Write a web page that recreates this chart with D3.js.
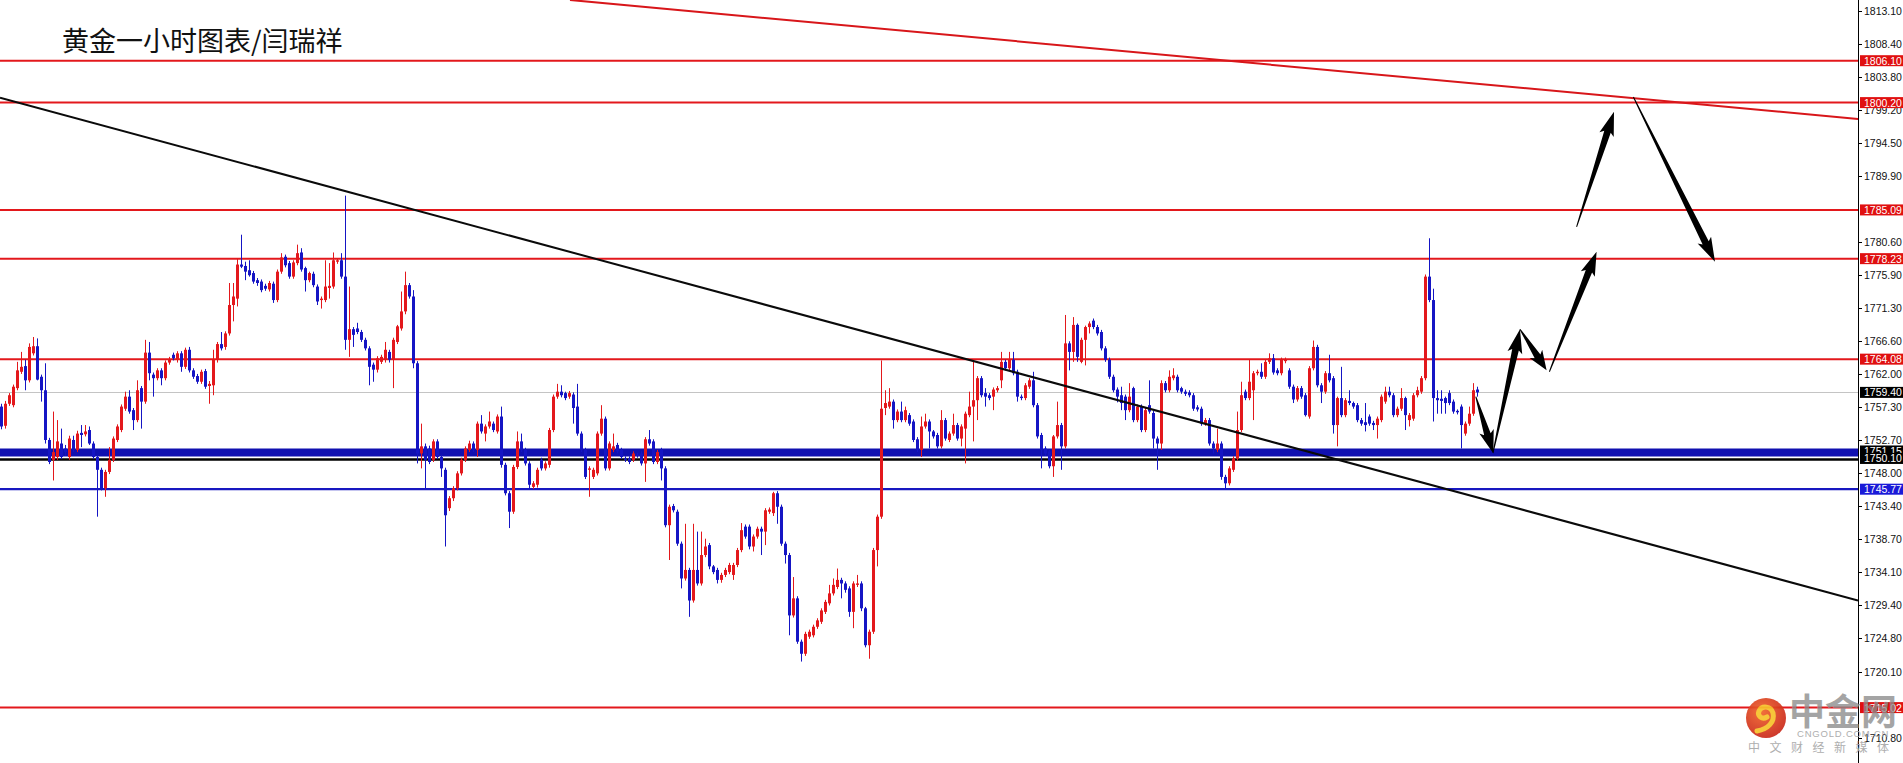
<!DOCTYPE html>
<html><head><meta charset="utf-8">
<script src="https://cdn.jsdelivr.net/npm/d3@7"></script>
<style>html,body{margin:0;padding:0;background:#fff;overflow:hidden}svg{display:block}</style>
</head><body>
<script>
// ---------- DATA ----------
const title = "黄金一小时图表/闫瑞祥";
// hourly candles: [open, high, low, close]
const candles = [
[1757.4,1757.8,1754.2,1754.6],[1754.7,1758.2,1754.3,1757.8],[1757.8,1759.3,1757.5,1759.0],[1757.6,1760.5,1757.3,1760.2],[1760.0,1763.7,1759.7,1762.5],
[1762.3,1765.1,1762.0,1763.0],[1763.1,1764.0,1759.7,1761.1],[1761.1,1766.3,1760.8,1765.8],[1764.9,1767.2,1764.6,1765.9],[1765.9,1767.0,1761.1,1761.2],
[1761.6,1761.9,1758.1,1759.7],[1759.7,1763.5,1752.2,1752.7],[1752.7,1753.0,1749.3,1749.6],[1749.9,1756.7,1747.0,1751.0],[1750.3,1755.5,1749.9,1752.5],
[1752.2,1754.3,1750.0,1750.3],[1751.5,1752.0,1750.5,1751.0],[1750.3,1753.3,1749.9,1752.9],[1752.7,1753.3,1751.0,1751.3],[1751.3,1754.0,1751.0,1753.6],
[1753.7,1754.8,1751.7,1753.4],[1753.5,1754.8,1753.2,1753.9],[1754.1,1754.6,1752.0,1752.2],[1752.2,1752.5,1750.0,1750.3],[1750.3,1750.6,1741.9,1748.5],
[1748.5,1748.8,1745.6,1745.9],[1745.9,1748.5,1744.7,1748.2],[1748.2,1751.7,1747.9,1749.9],[1749.9,1753.2,1749.6,1752.9],[1752.7,1754.9,1752.4,1754.6],
[1754.1,1757.7,1753.8,1757.4],[1757.1,1759.5,1756.8,1758.8],[1758.8,1759.7,1756.4,1756.7],[1756.9,1757.2,1754.1,1755.5],[1755.5,1761.1,1755.2,1759.7],
[1760.0,1760.3,1754.3,1758.1],[1758.1,1766.8,1757.8,1765.0],[1765.0,1766.5,1761.1,1762.1],[1761.9,1762.2,1758.8,1761.4],[1761.4,1762.8,1761.1,1762.5],
[1762.5,1762.8,1760.4,1761.4],[1761.4,1763.9,1761.1,1763.6],[1763.6,1764.4,1763.3,1764.0],[1764.7,1765.0,1763.9,1764.2],[1764.0,1765.2,1763.6,1764.9],
[1764.9,1765.2,1762.3,1763.0],[1763.0,1765.7,1762.7,1765.4],[1765.4,1765.8,1762.2,1762.5],[1762.5,1762.8,1761.3,1761.6],[1761.7,1762.0,1760.6,1760.9],
[1760.9,1762.6,1760.6,1762.3],[1762.4,1762.7,1759.9,1760.2],[1760.3,1761.0,1757.8,1760.6],[1760.4,1765.4,1759.0,1764.0],[1764.0,1766.5,1763.6,1766.2],
[1766.2,1767.9,1765.3,1765.6],[1765.8,1768.0,1765.4,1767.7],[1767.7,1774.8,1767.4,1771.7],[1771.7,1774.8,1769.4,1772.9],[1772.6,1778.3,1771.5,1777.4],
[1777.4,1781.6,1776.9,1777.1],[1777.2,1777.8,1775.2,1776.4],[1776.6,1778.0,1775.7,1775.9],[1776.2,1776.5,1774.7,1775.0],[1775.2,1775.5,1774.4,1774.8],
[1775.0,1775.3,1773.5,1773.8],[1774.4,1774.7,1773.7,1774.0],[1773.9,1775.1,1773.6,1774.8],[1774.7,1775.0,1772.0,1772.4],[1772.4,1776.7,1772.1,1776.4],
[1776.4,1779.0,1776.1,1778.4],[1778.5,1778.8,1777.0,1777.3],[1777.6,1777.9,1775.4,1775.7],[1775.7,1778.0,1775.4,1777.7],[1777.6,1780.2,1777.3,1779.0],
[1779.1,1779.7,1776.4,1776.7],[1776.9,1777.1,1773.6,1775.2],[1775.2,1776.4,1774.9,1776.2],[1776.1,1776.4,1774.2,1774.5],[1774.3,1774.6,1771.7,1772.2],
[1772.4,1772.9,1771.2,1772.6],[1772.4,1778.0,1772.1,1774.3],[1774.1,1777.6,1772.6,1774.4],[1774.3,1779.1,1774.0,1778.0],[1777.8,1778.3,1777.5,1778.0],
[1778.0,1779.0,1775.4,1775.7],[1775.7,1787.1,1765.4,1766.8],[1766.8,1774.3,1764.4,1768.3],[1768.3,1768.6,1765.8,1767.5],[1768.4,1769.2,1767.6,1767.9],
[1767.9,1768.2,1766.5,1766.8],[1766.8,1767.1,1765.3,1765.6],[1765.6,1765.9,1760.4,1763.0],[1763.3,1763.6,1760.9,1762.6],[1762.6,1764.5,1762.2,1764.2],
[1763.7,1764.7,1763.4,1764.4],[1764.0,1766.5,1763.6,1765.4],[1765.1,1765.4,1763.6,1764.0],[1764.0,1767.1,1760.0,1766.8],[1766.5,1768.9,1766.2,1768.7],
[1768.4,1773.6,1768.1,1770.8],[1770.8,1776.4,1770.4,1774.5],[1774.5,1774.8,1772.6,1772.9],[1772.9,1773.8,1762.8,1763.5],[1763.5,1763.8,1749.4,1750.8],
[1750.8,1755.0,1748.7,1751.8],[1751.8,1752.2,1745.9,1749.9],[1751.5,1751.9,1749.3,1749.6],[1749.9,1752.8,1749.6,1752.5],[1752.5,1752.8,1750.0,1750.3],
[1750.3,1750.6,1747.5,1748.7],[1748.5,1748.8,1737.7,1742.1],[1743.1,1744.8,1742.7,1744.5],[1744.5,1746.2,1744.1,1745.9],[1745.9,1748.3,1745.6,1748.0],
[1748.0,1750.2,1747.7,1749.9],[1749.9,1751.8,1749.6,1751.5],[1751.3,1752.6,1751.0,1752.2],[1752.2,1752.5,1751.0,1751.3],[1751.3,1755.3,1750.3,1755.0],
[1755.0,1756.2,1753.6,1753.9],[1753.6,1754.9,1752.5,1754.6],[1754.6,1756.7,1754.3,1755.3],[1755.0,1755.3,1753.8,1754.1],[1753.9,1756.3,1753.6,1756.0],
[1756.0,1757.4,1748.8,1749.2],[1749.2,1749.5,1744.9,1745.2],[1745.2,1745.5,1740.3,1742.6],[1742.6,1749.2,1742.3,1748.9],[1748.9,1753.9,1748.6,1752.5],
[1752.5,1753.6,1751.0,1751.3],[1751.3,1751.6,1749.1,1749.4],[1749.4,1749.7,1745.9,1746.4],[1746.1,1746.9,1745.8,1746.6],[1746.4,1748.8,1746.0,1748.5],
[1749.9,1750.2,1748.4,1748.7],[1748.7,1749.7,1748.4,1749.4],[1749.2,1754.4,1748.8,1754.1],[1754.1,1759.1,1753.8,1758.8],[1758.8,1760.6,1758.5,1759.5],
[1759.5,1760.4,1758.7,1759.0],[1759.3,1759.5,1758.3,1758.6],[1758.8,1759.6,1758.5,1759.3],[1759.1,1759.4,1755.0,1757.2],[1757.4,1760.6,1753.3,1753.6],
[1753.6,1753.9,1751.0,1751.3],[1751.3,1751.6,1747.2,1747.5],[1748.5,1749.0,1744.7,1748.7],[1747.5,1748.8,1747.2,1748.5],[1748.0,1753.9,1747.7,1753.6],
[1753.6,1757.6,1753.3,1755.7],[1755.7,1756.0,1748.4,1748.7],[1748.7,1752.5,1748.4,1752.2],[1751.3,1753.6,1751.0,1751.8],[1752.0,1752.3,1750.8,1751.1],
[1751.3,1751.6,1750.0,1750.3],[1750.1,1750.4,1749.6,1749.9],[1750.1,1750.4,1749.3,1749.6],[1749.9,1751.1,1749.6,1750.8],[1750.6,1750.9,1750.2,1750.5],
[1750.8,1751.1,1749.1,1749.4],[1749.4,1753.1,1746.8,1752.8],[1752.8,1754.1,1751.9,1752.2],[1752.5,1752.8,1749.3,1749.6],[1749.6,1751.3,1749.3,1751.0],
[1751.3,1751.6,1747.0,1748.7],[1748.7,1749.0,1740.4,1740.7],[1740.7,1743.6,1735.8,1743.3],[1743.4,1743.7,1742.5,1742.8],[1742.6,1742.9,1737.8,1738.1],
[1738.1,1738.4,1731.8,1733.2],[1733.2,1740.9,1732.9,1734.4],[1734.4,1734.7,1727.8,1730.1],[1730.1,1740.9,1729.8,1734.4],[1734.4,1739.8,1732.2,1732.5],
[1732.5,1739.8,1732.2,1736.5],[1736.5,1738.8,1736.2,1737.7],[1737.9,1738.2,1734.5,1734.9],[1734.9,1735.1,1733.8,1734.1],[1734.4,1734.7,1732.5,1733.0],
[1733.0,1734.0,1732.6,1733.7],[1733.7,1734.7,1733.4,1734.4],[1734.1,1735.4,1733.8,1735.1],[1733.7,1735.4,1733.0,1735.1],[1735.1,1737.5,1734.8,1737.2],
[1737.2,1741.0,1736.9,1740.0],[1740.5,1740.8,1738.8,1739.1],[1740.5,1740.8,1737.3,1737.7],[1737.7,1739.4,1737.0,1739.1],[1739.1,1740.5,1738.8,1740.2],
[1740.2,1740.5,1736.5,1739.8],[1739.8,1743.1,1737.9,1742.8],[1742.6,1743.2,1742.3,1742.9],[1742.4,1745.4,1742.0,1745.2],[1745.2,1745.5,1740.9,1743.3],
[1743.3,1743.6,1737.8,1738.1],[1738.1,1738.4,1735.3,1736.5],[1736.5,1736.8,1725.2,1728.0],[1728.0,1733.4,1727.7,1730.4],[1730.4,1730.7,1724.0,1724.3],
[1724.3,1724.6,1721.5,1722.6],[1722.6,1725.7,1722.3,1725.4],[1725.0,1726.0,1724.7,1725.7],[1725.2,1726.7,1724.9,1726.4],[1726.4,1727.6,1726.1,1727.3],
[1727.1,1729.0,1726.8,1728.7],[1728.5,1730.2,1728.2,1729.9],[1729.7,1732.3,1729.4,1731.1],[1731.1,1733.2,1730.8,1732.3],[1732.0,1734.6,1731.7,1733.0],
[1733.0,1733.3,1730.4,1732.5],[1732.5,1732.8,1731.2,1731.6],[1731.8,1732.1,1727.8,1728.5],[1728.5,1732.8,1726.2,1732.5],[1732.3,1733.7,1732.0,1732.5],
[1732.5,1732.8,1728.6,1729.0],[1729.0,1729.2,1723.5,1723.8],[1723.8,1726.0,1721.9,1725.7],[1725.7,1737.5,1725.4,1737.2],[1737.2,1742.2,1734.9,1741.9],
[1741.9,1763.9,1741.6,1757.1],[1757.2,1759.7,1756.2,1757.9],[1757.4,1760.0,1757.1,1758.1],[1758.1,1758.4,1754.3,1755.5],[1755.5,1757.0,1755.2,1756.7],
[1756.7,1758.1,1755.2,1755.5],[1755.5,1757.4,1755.2,1756.9],[1756.2,1756.5,1754.7,1755.0],[1755.3,1755.6,1752.4,1752.7],[1752.8,1753.1,1751.0,1751.3],
[1751.3,1756.0,1750.3,1754.6],[1754.6,1756.4,1754.3,1755.3],[1755.3,1755.6,1751.5,1753.9],[1753.9,1754.1,1752.9,1753.2],[1753.4,1753.7,1751.5,1751.8],
[1751.8,1756.9,1751.5,1755.5],[1755.5,1755.8,1752.6,1752.9],[1752.7,1753.9,1752.4,1753.6],[1753.6,1756.4,1753.3,1754.8],[1754.8,1755.1,1752.6,1752.9],
[1752.9,1754.9,1751.8,1754.6],[1754.3,1756.7,1749.4,1756.4],[1756.2,1759.5,1755.9,1757.4],[1757.4,1763.7,1752.5,1758.3],[1758.3,1761.7,1755.5,1761.4],
[1761.4,1761.7,1758.7,1759.0],[1759.3,1760.0,1757.4,1758.8],[1759.0,1759.3,1758.3,1758.6],[1758.8,1760.1,1756.9,1759.8],[1759.7,1760.3,1759.4,1760.0],
[1761.1,1765.1,1760.0,1763.7],[1763.7,1764.0,1762.5,1762.8],[1762.8,1765.1,1762.5,1764.0],[1764.0,1765.1,1761.8,1762.1],[1762.3,1762.6,1758.1,1758.8],
[1758.8,1759.1,1758.3,1758.6],[1758.6,1760.7,1758.3,1760.4],[1760.2,1761.4,1759.9,1761.1],[1761.1,1762.3,1757.3,1757.6],[1757.6,1757.9,1752.9,1753.2],
[1753.4,1753.7,1748.7,1751.3],[1751.5,1751.8,1750.5,1750.8],[1751.1,1751.3,1748.7,1749.0],[1749.0,1753.4,1747.5,1753.2],[1753.2,1758.1,1752.9,1754.8],
[1754.8,1755.1,1748.5,1751.8],[1751.8,1770.3,1751.5,1766.3],[1766.3,1766.6,1762.5,1765.1],[1765.1,1770.0,1763.7,1768.9],[1768.9,1769.1,1763.7,1764.4],
[1763.7,1767.1,1763.5,1766.8],[1766.8,1768.8,1763.2,1768.6],[1768.6,1769.4,1767.7,1769.1],[1769.5,1769.8,1768.3,1768.6],[1768.6,1768.9,1767.4,1767.7],
[1767.9,1768.2,1765.3,1765.6],[1765.6,1765.9,1763.7,1764.0],[1764.0,1764.3,1761.3,1761.6],[1761.6,1761.9,1759.4,1759.7],[1759.8,1760.1,1758.0,1758.8],
[1759.0,1760.2,1756.9,1757.9],[1758.8,1759.1,1755.5,1756.9],[1756.9,1760.7,1756.6,1758.8],[1760.0,1760.2,1755.2,1755.5],[1755.5,1757.7,1755.2,1757.4],
[1757.4,1757.7,1753.8,1754.1],[1754.1,1757.2,1753.8,1756.9],[1757.6,1761.1,1756.4,1756.7],[1756.5,1756.8,1751.5,1752.9],[1752.9,1753.2,1748.5,1752.2],
[1752.2,1761.1,1751.3,1760.7],[1760.7,1761.0,1759.4,1759.7],[1759.7,1762.5,1759.4,1761.6],[1761.4,1762.8,1761.1,1761.8],[1761.6,1761.9,1759.4,1759.7],
[1760.0,1760.2,1759.2,1759.5],[1759.5,1759.8,1758.9,1759.2],[1759.4,1759.7,1758.7,1759.0],[1759.0,1759.3,1756.8,1757.1],[1757.3,1757.6,1756.7,1757.0],
[1757.1,1757.4,1754.7,1755.0],[1755.0,1755.8,1754.7,1755.5],[1755.5,1755.8,1751.9,1752.2],[1752.2,1752.5,1750.8,1751.5],[1751.3,1754.3,1751.0,1752.2],
[1752.2,1752.5,1747.1,1747.5],[1747.5,1747.8,1745.9,1746.6],[1746.6,1749.0,1746.3,1748.7],[1748.5,1750.4,1748.2,1750.1],[1750.1,1756.7,1749.8,1754.1],
[1754.1,1760.9,1753.8,1759.0],[1759.5,1759.8,1758.3,1758.6],[1758.6,1764.0,1758.3,1760.9],[1759.7,1762.4,1755.5,1762.1],[1762.1,1762.6,1761.8,1762.3],
[1762.3,1763.5,1761.3,1761.6],[1761.6,1764.0,1761.3,1763.7],[1763.7,1764.9,1763.4,1764.2],[1764.2,1764.8,1761.9,1762.2],[1762.5,1762.8,1761.8,1762.1],
[1762.1,1764.3,1761.8,1764.0],[1763.8,1764.3,1763.5,1764.0],[1762.5,1762.8,1759.9,1760.2],[1760.2,1760.5,1757.9,1758.4],[1758.4,1760.3,1758.1,1760.0],
[1760.0,1760.3,1758.5,1758.8],[1759.0,1759.3,1756.0,1756.2],[1756.0,1763.1,1755.7,1762.8],[1762.8,1766.7,1762.5,1765.8],[1765.8,1766.1,1760.1,1760.4],
[1760.4,1760.7,1757.9,1759.5],[1759.5,1762.4,1759.2,1762.1],[1762.1,1764.7,1760.8,1761.1],[1761.4,1761.7,1753.6,1754.8],[1754.8,1758.8,1751.8,1758.6],
[1758.6,1763.0,1755.9,1756.2],[1756.2,1758.6,1755.9,1758.3],[1758.2,1759.7,1757.6,1757.9],[1757.9,1758.1,1757.1,1757.4],[1757.6,1757.9,1755.2,1755.5],
[1755.5,1755.8,1754.7,1755.0],[1755.2,1757.9,1753.9,1754.8],[1756.0,1756.3,1754.7,1755.0],[1755.1,1755.4,1754.1,1754.8],[1754.8,1756.0,1752.9,1755.7],
[1755.5,1759.1,1755.2,1758.8],[1758.1,1760.2,1757.8,1759.5],[1759.5,1760.2,1758.7,1759.0],[1759.0,1759.3,1755.9,1756.2],[1756.2,1757.4,1755.9,1757.1],
[1757.1,1760.0,1756.8,1758.6],[1758.6,1758.8,1754.1,1756.2],[1755.5,1756.5,1754.6,1756.2],[1755.7,1759.3,1755.4,1759.0],[1759.0,1760.2,1758.7,1759.7],
[1759.5,1761.7,1759.2,1761.4],[1761.4,1776.0,1761.1,1775.7],[1775.7,1781.1,1772.1,1772.4],[1772.4,1774.0,1755.3,1758.6],[1758.6,1759.7,1756.4,1758.3],
[1758.5,1759.7,1756.4,1758.2],[1758.6,1758.8,1756.4,1757.9],[1759.3,1759.7,1757.6,1757.9],[1758.1,1758.4,1756.4,1756.7],[1756.8,1757.0,1756.3,1756.6],
[1757.4,1757.7,1751.5,1754.8],[1753.6,1755.3,1753.3,1755.0],[1755.0,1757.4,1754.7,1756.4],[1756.4,1760.7,1756.1,1759.7],[1759.8,1760.2,1758.8,1759.4]
];
// axis tick labels (right price scale)
const tickLabels = ["1813.10","1808.40","1803.80","1799.20","1794.50","1789.90","1780.60","1775.90","1771.30","1766.60","1762.00","1757.30","1752.70","1748.00","1743.40","1738.70","1734.10","1729.40","1724.80","1720.10","1710.80"];
// horizontal levels
const redLevels = [1806.10, 1800.20, 1785.09, 1778.23, 1764.08, 1715.02];
const blueBandLevel = [1751.15];
const blackLevel = [1750.10];
const blueLevel = [1745.77];
const currentPrice = [1759.40];
// trend lines: [[barIndex, price], [barIndex, price]]
const blackTrend = [[-0.25, 1800.9], [464.25, 1730.1]];
const redTrend = [[142.25, 1814.65], [464.25, 1797.9]];
// projected path arrows: [fromIndex, fromPrice, toIndex, toPrice]
const arrows = [
  [368.7, 1758.8, 373.1, 1750.8],
  [373.0, 1750.9, 379.75, 1768.3],
  [379.75, 1768.3, 386.4, 1762.5],
  [387.1, 1762.3, 398.9, 1779.2],
  [393.9, 1782.7, 403.25, 1798.9],
  [408.1, 1801.0, 428.5, 1777.8]
];

// ---------- CHART ----------
const W = 1903, H = 763, AX = 1858;
const RED = "#e3181c", BLUE = "#1515c4";
const svg = d3.select("body").append("svg").attr("width", W).attr("height", H);
const x = d3.scaleLinear().domain([-0.25, 464.25]).range([0, AX]);
const y = d3.scaleLinear().domain([1715.02, 1806.10]).range([707.6, 60.7]);

const plot = svg.append("g");
plot.append("clipPath").attr("id","clip").append("rect").attr("x",0).attr("y",0).attr("width",AX).attr("height",H);
const g = plot.append("g").attr("clip-path","url(#clip)");

// horizontal levels
g.selectAll(".cur").data(currentPrice).join("line")
  .attr("x1",0).attr("x2",AX).attr("y1",d=>Math.round(y(d))+0.5).attr("y2",d=>Math.round(y(d))+0.5)
  .attr("stroke","#c4c4c4").attr("stroke-width",1);
g.selectAll(".red").data(redLevels).join("line")
  .attr("x1",0).attr("x2",AX).attr("y1",d=>y(d)).attr("y2",d=>y(d))
  .attr("stroke",RED).attr("stroke-width",2);
g.selectAll(".band").data(blueBandLevel).join("line")
  .attr("x1",0).attr("x2",AX).attr("y1",d=>y(d)+1.5).attr("y2",d=>y(d)+1.5)
  .attr("stroke","#1010b0").attr("stroke-width",8);
g.selectAll(".blk").data(blackLevel).join("line")
  .attr("x1",0).attr("x2",AX).attr("y1",d=>y(d)+1).attr("y2",d=>y(d)+1)
  .attr("stroke","#000").attr("stroke-width",2.5);
g.selectAll(".blue").data(blueLevel).join("line")
  .attr("x1",0).attr("x2",AX).attr("y1",d=>y(d)).attr("y2",d=>y(d))
  .attr("stroke","#1818c0").attr("stroke-width",2.2);

// candles
const cg = g.append("g");
cg.selectAll("line").data(candles).join("line")
  .attr("x1",(d,i)=>Math.round(x(i))+0.5).attr("x2",(d,i)=>Math.round(x(i))+0.5)
  .attr("y1",d=>y(d[1])).attr("y2",d=>y(d[2]))
  .attr("stroke",d=>d[3]>=d[0]?RED:BLUE).attr("stroke-width",1);
cg.selectAll("rect").data(candles).join("rect")
  .attr("x",(d,i)=>Math.round(x(i))-1).attr("width",3)
  .attr("y",d=>y(Math.max(d[0],d[3])))
  .attr("height",d=>Math.max(1.2, Math.abs(y(d[0])-y(d[3]))))
  .attr("fill",d=>d[3]>=d[0]?RED:BLUE);

// trend lines
const line = d3.line().x(d=>x(d[0])).y(d=>y(d[1]));
g.append("path").attr("d",line(blackTrend)).attr("stroke","#0a0a0a").attr("stroke-width",2).attr("fill","none");
g.append("path").attr("d",line(redTrend)).attr("stroke","#d8161a").attr("stroke-width",2).attr("fill","none");

// arrows (tapered shaft + head)
arrows.forEach(a=>{
  const x0=x(a[0]), y0=y(a[1]), x1=x(a[2]), y1=y(a[3]);
  const dx=x1-x0, dy=y1-y0, L=Math.hypot(dx,dy);
  const ux=dx/L, uy=dy/L, nx=-uy, ny=ux;
  const hl=Math.min(21, L*0.34), hw=7.5, sw=3.4, tw=0.5;
  const bx=x1-ux*hl, by=y1-uy*hl;
  const pts=[
    [x0+nx*tw,y0+ny*tw],[bx+nx*sw,by+ny*sw],[bx-ux*3+nx*hw,by-uy*3+ny*hw],[x1,y1],
    [bx-ux*3-nx*hw,by-uy*3-ny*hw],[bx-nx*sw,by-ny*sw],[x0-nx*tw,y0-ny*tw]];
  svg.append("polygon").attr("points",pts.map(p=>p.join(",")).join(" ")).attr("fill","#000");
});

// right axis
svg.append("line").attr("x1",AX+0.5).attr("x2",AX+0.5).attr("y1",0).attr("y2",H).attr("stroke","#000").attr("stroke-width",1);
const ax = svg.append("g");
ax.selectAll("line").data(tickLabels).join("line")
  .attr("x1",AX).attr("x2",AX+4).attr("y1",d=>Math.round(y(+d))+0.5).attr("y2",d=>Math.round(y(+d))+0.5)
  .attr("stroke","#000");
ax.selectAll("text").data(tickLabels).join("text")
  .attr("x",AX+6).attr("y",d=>y(+d)+4)
  .attr("font-family","'Liberation Sans',Arial,sans-serif").attr("font-size",10.5).attr("fill","#111")
  .text(d=>d);

// level labels
const lbls = [];
redLevels.forEach(v=>lbls.push({v, bg:"#e01010"}));
currentPrice.forEach(v=>lbls.push({v, bg:"#000"}));
blueBandLevel.forEach(v=>lbls.push({v, bg:"#000"}));
blackLevel.forEach(v=>lbls.push({v, bg:"#000"}));
blueLevel.forEach(v=>lbls.push({v, bg:"#1a1ad8"}));
const lg = svg.append("g");
lbls.forEach(l=>{
  const yy=y(l.v);
  lg.append("rect").attr("x",AX+2).attr("y",yy-5.5).attr("width",W-AX-2).attr("height",11).attr("fill",l.bg);
  lg.append("text").attr("x",AX+6).attr("y",yy+4).attr("font-family","'Liberation Sans',Arial,sans-serif")
    .attr("font-size",10.5).attr("fill","#fff").text(l.v.toFixed(2));
});

// title
svg.append("text").attr("x",62).attr("y",51).attr("font-family","'Noto Sans CJK SC',sans-serif")
  .attr("font-size",27).attr("fill","#111").text(title);

// watermark logo
const logo = svg.append("g").attr("opacity",0.92);
const grad = svg.append("defs").append("radialGradient").attr("id","lg").attr("cx","40%").attr("cy","35%").attr("r","70%");
grad.append("stop").attr("offset","0%").attr("stop-color","#f0642a");
grad.append("stop").attr("offset","100%").attr("stop-color","#c9261a");
logo.append("circle").attr("cx",1766).attr("cy",718).attr("r",20).attr("fill","url(#lg)");
logo.append("path").attr("d","M1757,731 C1768,729 1775,722 1773,713 C1771,706 1762,705 1759,711 C1757,716 1762,720 1767,717")
  .attr("fill","none").attr("stroke","#f6c22a").attr("stroke-width",5).attr("stroke-linecap","round");
logo.append("text").attr("x",1789).attr("y",725).attr("font-family","'Noto Sans CJK SC',sans-serif").attr("font-weight","bold")
  .attr("font-size",36).attr("fill","#8c8c8c").attr("fill-opacity",0.85).text("中金网");
logo.append("text").attr("x",1797).attr("y",737).attr("font-family","'Liberation Sans',Arial,sans-serif")
  .attr("font-size",9.5).attr("letter-spacing",0.8).attr("fill","#a8a8a8").text("CNGOLD.COM.CN");
logo.append("text").attr("x",1748).attr("y",752).attr("font-family","'Noto Sans CJK SC',sans-serif")
  .attr("font-size",12).attr("letter-spacing",9.5).attr("fill","#a8a8a8").text("中文财经新媒体");
</script>
</body></html>
